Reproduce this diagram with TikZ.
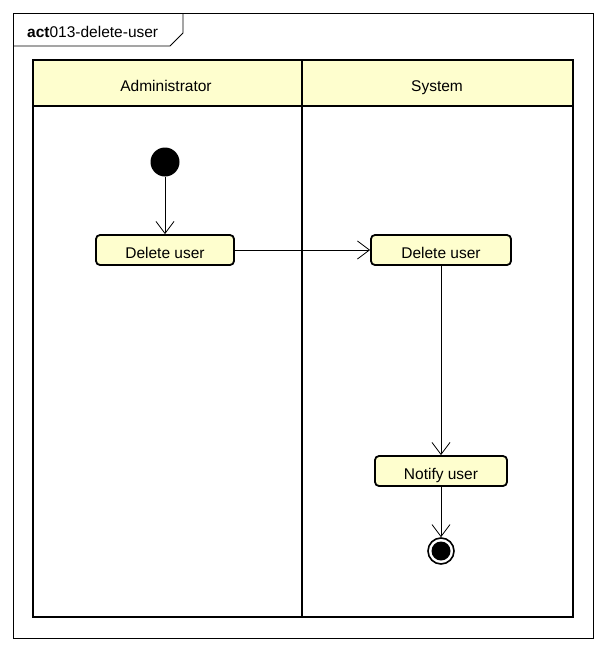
\documentclass[tikz,border=0pt]{standalone}
\usepackage{fontspec}
\setmainfont{Liberation Sans}
\usetikzlibrary{arrows.meta,positioning}
\definecolor{actfill}{HTML}{FEFECE}

\tikzset{
  action/.style={draw, line width=1.8pt, rounded corners=4pt, fill=actfill,
    minimum height=30pt, inner sep=0pt, text height=16pt, text depth=0pt,
    font=\fontsize{15.5}{18}\selectfont},
  flow/.style={-{Straight Barb[length=12pt,width=18pt]}, line width=0.8pt},
  lane/.style={line width=2.5pt}
}

\begin{document}
\begin{tikzpicture}[x=1pt,y=-1pt]
    \useasboundingbox (0,0) rectangle (606,653);

    % frame and its tab
    \draw [line width=0.8pt] (13,13) rectangle (593,638);
    \draw [line width=0.8pt] (13,46) -- (170,46) -- (183,33) -- (183,13);
    \node [anchor=base west, inner sep=0pt, font=\fontsize{15.5}{18}\selectfont] (title) at (27,37) {\textbf{act}013-delete-user};

    % swimlanes
    \fill [actfill] (33,60) rectangle (573,106);
    \draw [lane] (33,60) rectangle (573,617);
    \draw [lane] (33,106) -- (573,106);
    \draw [lane] (302,60) -- (302,617);
    \node [anchor=base, font=\fontsize{15.5}{18}\selectfont] (admin) at (166,91) {Administrator};
    \node [anchor=base, font=\fontsize{15.5}{18}\selectfont] (system) at (437,91) {System};

    % activities
    \node [circle, fill=black, minimum size=29pt, inner sep=0pt] (start) at (165,162) {};
    \node [action, minimum width=138pt] (deladmin) at (165,250) {Delete user};
    \node [action, minimum width=140pt] (delsys) at (441,250) {Delete user};
    \node [action, minimum width=132pt] (notify) at (441,471) {Notify user};
    \node [circle, draw, line width=1.6pt, fill=white, minimum size=26pt, inner sep=0pt] (stop) at (441,551) {};
    \fill (stop.center) circle (9.5);

    \draw [flow] (start) -- (deladmin);
    \draw [flow] (deladmin) -- (delsys);
    \draw [flow] (delsys) -- (notify);
    \draw [flow] (notify) -- (stop);
\end{tikzpicture}
\end{document}
